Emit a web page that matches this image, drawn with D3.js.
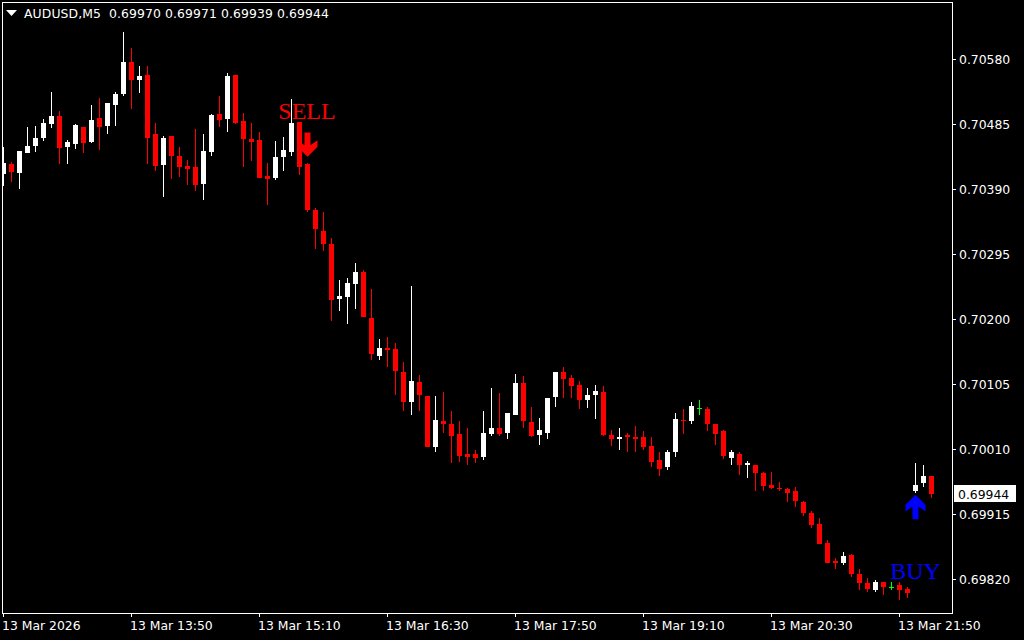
<!DOCTYPE html>
<html><head><meta charset="utf-8">
<style>
html,body{margin:0;padding:0;background:#000;overflow:hidden}
svg{display:block}
text{font-family:"DejaVu Sans",sans-serif;font-size:12.4px;fill:#fff}
</style>
<script src="https://cdn.jsdelivr.net/npm/d3@7"></script>
</head><body><svg id="c" width="1024" height="640"></svg>
<script>
const opens=[.70412,.70427,.70413,.70443,.70453,.70465,.70485,.70497,.70451,.70456,.70481,.70459,.70494,.70482,.70513,.70529,.70576,.70549,.70557,.70470,.70425,.70467,.70438,.70424,.70422,.70397,.70444,.70500,.70492,.70557,.70489,.70463,.70462,.70409,.70406,.70437,.70444,.70488,.70427,.70359,.70329,.70310,.70229,.70232,.70251,.70269,.70202,.70146,.70158,.70156,.70123,.70078,.70108,.70088,.70013,.70051,.70047,.70032,.70003,.70002,.69999,.70032,.70040,.70034,.70059,.70107,.70050,.70031,.70034,.70086,.70123,.70114,.70104,.70082,.70089,.70094,.70031,.70024,.70031,.70028,.70028,.70015,.69994,.69983,.70005,.70053,.70051,.70070,.70069,.70047,.70037,.69997,.70003,.69986,.69987,.69975,.69958,.69953,.69951,.69949,.69932,.69916,.69900,.69872,.69847,.69844,.69855,.69828,.69814,.69804,.69815,.69808,.69811,.69805,.69948,.69961,.69970];
const highs=[.70451,.70429,.70446,.70481,.70482,.70492,.70532,.70504,.70462,.70485,.70481,.70513,.70523,.70516,.70532,.70620,.70596,.70570,.70570,.70486,.70467,.70467,.70451,.70432,.70478,.70470,.70500,.70526,.70559,.70557,.70501,.70486,.70473,.70428,.70460,.70466,.70521,.70488,.70428,.70362,.70357,.70319,.70257,.70260,.70282,.70272,.70244,.70171,.70173,.70165,.70137,.70248,.70118,.70088,.70088,.70094,.70066,.70051,.70040,.70009,.70066,.70099,.70092,.70062,.70120,.70116,.70072,.70056,.70085,.70123,.70130,.70118,.70110,.70099,.70104,.70102,.70038,.70041,.70034,.70044,.70037,.70028,.70006,.70008,.70062,.70069,.70079,.70082,.70072,.70047,.70038,.70009,.70006,.69993,.69987,.69977,.69977,.69962,.69953,.69955,.69934,.69920,.69909,.69877,.69850,.69859,.69856,.69834,.69821,.69818,.69815,.69815,.69815,.69809,.69989,.69986,.69971];
const lows=[.70394,.70400,.70390,.70443,.70444,.70460,.70479,.70427,.70427,.70448,.70443,.70457,.70447,.70470,.70482,.70526,.70507,.70530,.70427,.70416,.70378,.70405,.70408,.70396,.70387,.70374,.70438,.70481,.70473,.70485,.70422,.70431,.70406,.70367,.70403,.70416,.70438,.70410,.70357,.70302,.70300,.70197,.70211,.70192,.70215,.70203,.70140,.70140,.70130,.70089,.70065,.70059,.70065,.70013,.70005,.70034,.69989,.69991,.69987,.69989,.69994,.70029,.70029,.70024,.70059,.70040,.70027,.70016,.70024,.70072,.70085,.70085,.70069,.70070,.70054,.70029,.70015,.70009,.70006,.70006,.70008,.69983,.69970,.69980,.69999,.70032,.70047,.70060,.70037,.70016,.69996,.69986,.69972,.69967,.69949,.69949,.69952,.69948,.69932,.69925,.69912,.69894,.69871,.69843,.69834,.69840,.69823,.69804,.69801,.69801,.69796,.69804,.69790,.69792,.69945,.69955,.69939];
const closes=[.70428,.70415,.70446,.70453,.70465,.70486,.70497,.70450,.70459,.70484,.70457,.70491,.70481,.70516,.70529,.70576,.70549,.70555,.70465,.70424,.70465,.70438,.70422,.70419,.70396,.70446,.70498,.70491,.70555,.70486,.70463,.70459,.70406,.70405,.70437,.70447,.70486,.70422,.70359,.70332,.70310,.70228,.70234,.70253,.70269,.70203,.70149,.70158,.70154,.70124,.70078,.70110,.70089,.70013,.70053,.70047,.70029,.70000,.69999,.69997,.70034,.70041,.70032,.70062,.70107,.70051,.70029,.70038,.70085,.70123,.70113,.70102,.70081,.70089,.70095,.70031,.70024,.70028,.70027,.70024,.70013,.69991,.69981,.70005,.70054,.70051,.70073,.70070,.70047,.70032,.70000,.70005,.69986,.69989,.69975,.69956,.69953,.69951,.69946,.69934,.69916,.69899,.69871,.69844,.69843,.69853,.69828,.69814,.69805,.69815,.69808,.69808,.69804,.69799,.69958,.69971,.69944];
const priceTicks=[.70580,.70485,.70390,.70295,.70200,.70105,.70010,.69915,.69820];
const timeTickIndex=[0,16,32,48,64,80,96,112];
const timeTickLabels=["13 Mar 2026","13 Mar 13:50","13 Mar 15:10","13 Mar 16:30","13 Mar 17:50","13 Mar 19:10","13 Mar 20:30","13 Mar 21:50"];
const headerText="AUDUSD,M5  0.69970 0.69971 0.69939 0.69944";
const lastPrice=0.69944;
const sellLabelIndex=38, sellLabelPrice=0.70493, sellArrowPrice=0.70437;
const buyLabelIndex=114, buyLabelPrice=0.69820, buyArrowPrice=0.69943;

const svg=d3.select("#c");
const L=2,T=2,R=952,B=613;
const W=1024,H=640;
svg.append("rect").attr("width",W).attr("height",H).attr("fill","#000");
const x=d3.scalePoint().domain(d3.range(opens.length)).range([3,931]);
const y=d3.scaleLinear().domain([.70580,.69820]).range([59,579]);
const ry=v=>Math.round(y(v));
svg.append("defs").append("clipPath").attr("id","plot").append("rect")
  .attr("x",L+1).attr("y",T+1).attr("width",R-L-1).attr("height",B-T-1);
const plot=svg.append("g").attr("clip-path","url(#plot)");

const labelStyle=s=>s.attr("text-anchor","middle").style("font-family",'"Liberation Serif",serif').style("font-size","24px");
plot.append("text").attr("x",x(sellLabelIndex)).attr("y",y(sellLabelPrice)).text("SELL").call(labelStyle).style("fill","#f00");
plot.append("text").attr("x",x(buyLabelIndex)+.5).attr("y",y(buyLabelPrice)).text("BUY").call(labelStyle).style("fill","#00f");

const color=i=>closes[i]>opens[i]?"#fff":closes[i]<opens[i]?"#f00":"#0f0";
const idx=d3.range(opens.length);
const g=plot.selectAll("g.c").data(idx).join("g").attr("class","c").attr("shape-rendering","crispEdges");
g.append("rect").attr("x",i=>x(i)).attr("width",1)
  .attr("y",i=>ry(highs[i])).attr("height",i=>Math.max(1,ry(lows[i])-ry(highs[i]))).attr("fill",color);
g.append("rect").attr("x",i=>x(i)-2).attr("width",5)
  .attr("y",i=>ry(Math.max(opens[i],closes[i])))
  .attr("height",i=>Math.max(1,Math.abs(ry(opens[i])-ry(closes[i])))).attr("fill",color);

// MT4 signal arrows: offsets are the arrow glyph shape, anchored at the tip.
const arrow="M0 0L10 10V16.7L3 11.7V24.3H-3V11.7L-10 16.7V10Z";
plot.append("path").attr("d",arrow).attr("fill","#00f")
  .attr("transform",`translate(${x(buyLabelIndex)+.5},${y(buyArrowPrice)})`);
plot.append("path").attr("d",arrow).attr("fill","#f00")
  .attr("transform",`translate(${x(sellLabelIndex)+.5},${y(sellArrowPrice)}) scale(1,-1)`);

// frame
const fr=(a,b,c,d)=>svg.append("rect").attr("x",a).attr("y",b).attr("width",c).attr("height",d).attr("fill","#fff").attr("shape-rendering","crispEdges");
fr(L,T,R-L+1,1);fr(L,B,R-L+1,1);fr(L,T,1,B-T+1);fr(R,T,1,B-T+1);

// axes
const ya=svg.append("g").attr("transform",`translate(${R+1},0)`).call(
  d3.axisRight(y).tickValues(priceTicks).tickFormat(d3.format(".5f")).tickSize(3).tickPadding(3));
ya.select(".domain").remove();
ya.selectAll("line").attr("stroke","#fff").attr("shape-rendering","crispEdges");
ya.selectAll("text").attr("dy",null).attr("y",4.5).style("fill","#fff").attr("fill","#fff");

const xa=svg.append("g").attr("transform",`translate(0,${B+1})`).call(
  d3.axisBottom(x).tickValues(timeTickIndex).tickFormat((d,i)=>timeTickLabels[i]).tickSize(3).tickPadding(0));
xa.select(".domain").remove();
xa.selectAll("line").attr("stroke","#fff").attr("shape-rendering","crispEdges").attr("transform","translate(0.5,0)");
xa.selectAll("g.tick").attr("transform",d=>`translate(${x(d)},0)`);
xa.selectAll("text").attr("text-anchor","start").attr("x",-1).attr("y",16).attr("dy",null).style("fill","#fff");

// last price box
svg.append("rect").attr("x",954).attr("y",ry(lastPrice)-9).attr("width",62).attr("height",17).attr("fill","#fff").attr("shape-rendering","crispEdges");
svg.append("text").attr("x",958).attr("y",ry(lastPrice)+4.5).text(d3.format(".5f")(lastPrice)).style("fill","#000");

// header
svg.append("path").attr("d","M6 10H17L11.5 16Z").attr("fill","#fff");
svg.append("text").attr("x",24).attr("y",18).style("white-space","pre").style("letter-spacing","0.1px").text(headerText);
</script></body></html>
